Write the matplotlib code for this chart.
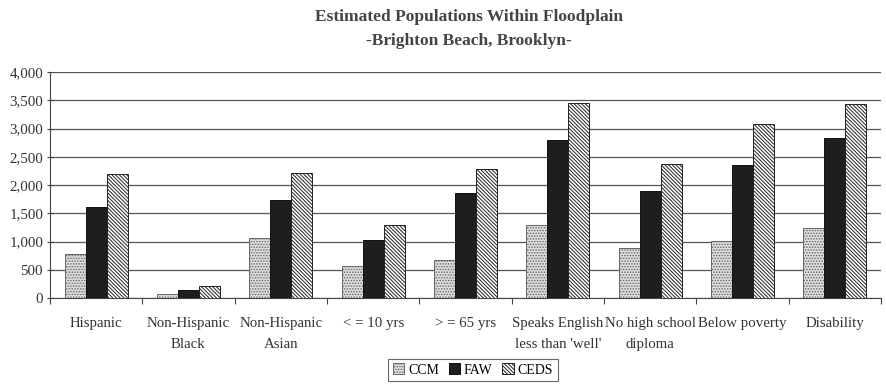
import matplotlib
matplotlib.use("Agg")
import matplotlib.pyplot as plt
import numpy as np

plt.rcParams['font.family'] = ['Liberation Serif', 'DejaVu Serif']
plt.rcParams['hatch.linewidth'] = 0.7

categories = ["Hispanic", "Non-Hispanic\nBlack", "Non-Hispanic\nAsian", "< = 10 yrs",
              "> = 65 yrs", "Speaks English\nless than 'well'", "No high school\ndiploma",
              "Below poverty", "Disability"]
ccm = [780, 65, 1058, 567, 680, 1300, 892, 1016, 1247]
faw = [1607, 136, 1731, 1028, 1861, 2800, 1891, 2357, 2830]
ceds = [2198, 207, 2210, 1300, 2287, 3456, 2369, 3084, 3427]
yticks = [0, 500, 1000, 1500, 2000, 2500, 3000, 3500, 4000]

fig = plt.figure(figsize=(8.87, 3.85), dpi=100)
ax = fig.add_axes([50 / 887, 1 - 298 / 385, 831 / 887, 226 / 385])

x = np.arange(len(categories))
w = 0.228
ax.bar(x - w, ccm, w, facecolor='#dddddd', edgecolor='#666666', hatch='......',
       linewidth=0.7, label='CCM', zorder=3)
ax.bar(x, faw, w, facecolor='#1e1e1e', edgecolor='#111111', linewidth=0.7,
       label='FAW', zorder=3)
ax.bar(x + w, ceds, w, facecolor='white', edgecolor='#222222', hatch='\\\\\\\\\\\\\\\\\\',
       linewidth=0.7, label='CEDS', zorder=3)

ax.set_xlim(-0.5, len(categories) - 0.5)
ax.set_ylim(0, 4000)
ax.set_yticks(yticks)
ax.set_yticklabels([f"{v:,}" for v in yticks], fontsize=10.8, color='#333333')
ax.yaxis.grid(True, color='#555555', linewidth=0.9, zorder=0)
ax.set_axisbelow(True)

# category boundaries carry the tick marks; labels sit at the centres
ax.set_xticks(np.arange(len(categories) + 1) - 0.5)
ax.set_xticklabels([])
ax.set_xticks(x, minor=True)
ax.set_xticklabels(categories, minor=True, fontsize=10.7, color='#333333',
                   linespacing=1.8, va='top')
ax.tick_params(axis='x', which='minor', length=0, pad=14)
ax.tick_params(axis='x', which='major', length=4, color='#444444', direction='out')
ax.tick_params(axis='y', length=4, color='#444444', direction='inout', pad=3)

for s in ['top', 'right']:
    ax.spines[s].set_visible(False)
ax.spines['left'].set_color('#444444')
ax.spines['bottom'].set_color('#444444')

fig.text(469 / 887, 1 - 17 / 385, "Estimated Populations Within Floodplain", ha='center',
         va='center', fontsize=12.5, fontweight='bold', color='#444444')
fig.text(469 / 887, 1 - 41 / 385, "-Brighton Beach, Brooklyn-", ha='center', va='center',
         fontsize=12.5, fontweight='bold', color='#444444')

leg = fig.legend(loc='center', bbox_to_anchor=(473 / 887, 1 - 370 / 385), ncol=3,
                 fontsize=10, frameon=True, fancybox=False, edgecolor='#444444',
                 handlelength=0.8, handleheight=0.8, handletextpad=0.3,
                 columnspacing=0.7, borderpad=0.35)
leg.get_frame().set_linewidth(0.8)

fig.savefig("out.png", dpi=100)
